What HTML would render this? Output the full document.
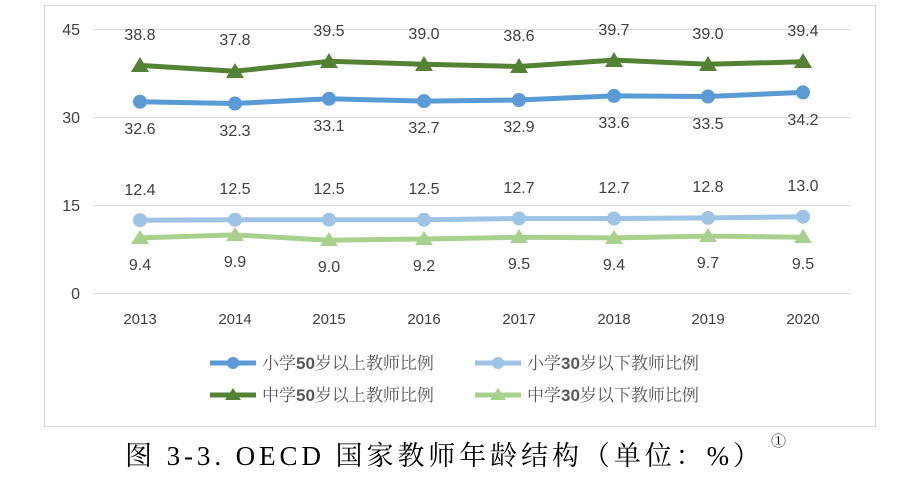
<!DOCTYPE html>
<html><head><meta charset="utf-8"><style>
body{margin:0;background:#fff;width:900px;height:475px;overflow:hidden}
</style></head><body>
<svg width="900" height="475" xmlns="http://www.w3.org/2000/svg" font-family="Liberation Sans, 'Noto Sans CJK SC', sans-serif">
<rect x="44.5" y="5.5" width="831" height="421" fill="#fff" stroke="#d9d9d9"/>
<g stroke="#d9d9d9" stroke-width="1">
<line x1="94" y1="29.5" x2="850" y2="29.5"/>
<line x1="94" y1="117.5" x2="850" y2="117.5"/>
<line x1="94" y1="205.5" x2="850" y2="205.5"/>
<line x1="94" y1="293.5" x2="850" y2="293.5"/>
</g>
<g fill="#404040" font-size="16" text-anchor="end">
<text x="80" y="35">45</text><text x="80" y="123">30</text><text x="80" y="211">15</text><text x="80" y="299">0</text>
</g>
<g fill="#404040" font-size="15" text-anchor="middle">
<text x="140" y="324">2013</text><text x="235" y="324">2014</text><text x="329" y="324">2015</text><text x="424" y="324">2016</text><text x="519" y="324">2017</text><text x="614" y="324">2018</text><text x="708" y="324">2019</text><text x="803" y="324">2020</text>
</g>
<polyline fill="none" stroke="#548235" stroke-width="5" stroke-linejoin="round" points="140,65.4 235,71.2 329,61.3 424,64.2 519,66.5 614,60.1 708,64.2 803,61.8"/>
<g fill="#548235">
<polygon points="140,57 131,72 149,72"/><polygon points="235,63 226,78 244,78"/><polygon points="329,53 320,68 338,68"/><polygon points="424,56 415,71 433,71"/><polygon points="519,58 510,73 528,73"/><polygon points="614,52 605,67 623,67"/><polygon points="708,56 699,71 717,71"/><polygon points="803,53 794,68 812,68"/>
</g>
<polyline fill="none" stroke="#5b9bd5" stroke-width="5" points="140,101.7 235,103.5 329,98.8 424,101.1 519,100 614,95.9 708,96.5 803,92.4"/>
<g fill="#5b9bd5">
<circle cx="140" cy="101.7" r="7"/><circle cx="235" cy="103.5" r="7"/><circle cx="329" cy="98.8" r="7"/><circle cx="424" cy="101.1" r="7"/><circle cx="519" cy="100" r="7"/><circle cx="614" cy="95.9" r="7"/><circle cx="708" cy="96.5" r="7"/><circle cx="803" cy="92.4" r="7"/>
</g>
<polyline fill="none" stroke="#9dc3e6" stroke-width="5" points="140,220.2 235,219.7 329,219.7 424,219.7 519,218.5 614,218.5 708,217.9 803,216.7"/>
<g fill="#9dc3e6">
<circle cx="140" cy="220.2" r="7"/><circle cx="235" cy="219.7" r="7"/><circle cx="329" cy="219.7" r="7"/><circle cx="424" cy="219.7" r="7"/><circle cx="519" cy="218.5" r="7"/><circle cx="614" cy="218.5" r="7"/><circle cx="708" cy="217.9" r="7"/><circle cx="803" cy="216.7" r="7"/>
</g>
<polyline fill="none" stroke="#a9d18e" stroke-width="5" points="140,237.9 235,234.9 329,240.2 424,239 519,237.3 614,237.9 708,236.1 803,237.3"/>
<g fill="#a9d18e">
<polygon points="140,230 131,244 149,244"/><polygon points="235,227 226,241 244,241"/><polygon points="329,232 320,246 338,246"/><polygon points="424,231 415,245 433,245"/><polygon points="519,229 510,243 528,243"/><polygon points="614,230 605,244 623,244"/><polygon points="708,228 699,242 717,242"/><polygon points="803,229 794,243 812,243"/>
</g>
<g fill="#404040" font-size="16" text-anchor="middle">
<text x="140" y="40">38.8</text><text x="235" y="45">37.8</text><text x="329" y="36">39.5</text><text x="424" y="39">39.0</text><text x="519" y="41">38.6</text><text x="614" y="35">39.7</text><text x="708" y="39">39.0</text><text x="803" y="36">39.4</text>
<text x="140" y="134">32.6</text><text x="235" y="136">32.3</text><text x="329" y="131">33.1</text><text x="424" y="133">32.7</text><text x="519" y="132">32.9</text><text x="614" y="128">33.6</text><text x="708" y="129">33.5</text><text x="803" y="125">34.2</text>
<text x="140" y="195">12.4</text><text x="235" y="194">12.5</text><text x="329" y="194">12.5</text><text x="424" y="194">12.5</text><text x="519" y="193">12.7</text><text x="614" y="193">12.7</text><text x="708" y="192">12.8</text><text x="803" y="191">13.0</text>
<text x="140" y="270">9.4</text><text x="235" y="267">9.9</text><text x="329" y="272">9.0</text><text x="424" y="271">9.2</text><text x="519" y="269">9.5</text><text x="614" y="270">9.4</text><text x="708" y="268">9.7</text><text x="803" y="269">9.5</text>
</g>
<line x1="210" y1="363" x2="256" y2="363" stroke="#5b9bd5" stroke-width="5"/><circle cx="233" cy="363" r="6" fill="#5b9bd5"/>
<line x1="475" y1="363" x2="521" y2="363" stroke="#9dc3e6" stroke-width="5"/><circle cx="498" cy="363" r="6" fill="#9dc3e6"/>
<line x1="210" y1="395" x2="256" y2="395" stroke="#548235" stroke-width="5"/><polygon points="233,388 225,400 241,400" fill="#548235"/>
<line x1="475" y1="395" x2="521" y2="395" stroke="#a9d18e" stroke-width="5"/><polygon points="498,388 490,400 506,400" fill="#a9d18e"/>
<g fill="#595959" font-size="17" font-family="'Liberation Sans','Noto Serif CJK SC',serif">
<text x="262" y="369">小学<tspan font-weight="bold">50</tspan>岁以上教师比例</text>
<text x="527" y="369">小学<tspan font-weight="bold">30</tspan>岁以下教师比例</text>
<text x="262" y="401">中学<tspan font-weight="bold">50</tspan>岁以上教师比例</text>
<text x="527" y="401">中学<tspan font-weight="bold">30</tspan>岁以下教师比例</text>
</g>
<text x="125" y="465" font-size="27" fill="#000" font-family="'Liberation Serif','Noto Serif CJK SC',serif" textLength="635" lengthAdjust="spacing">图 3-3. OECD 国家教师年龄结构（单位：%）</text>
<text x="771" y="446" font-size="15" fill="#000" font-family="'Noto Serif CJK SC',serif">①</text>
</svg>
</body></html>
